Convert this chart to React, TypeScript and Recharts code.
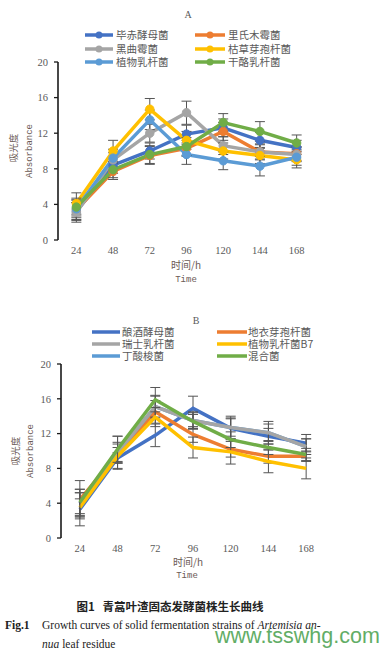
import React from "react";
import { LineChart, Line, XAxis, YAxis, ErrorBar } from "recharts";

// sampling times (h)
const times = [24, 48, 72, 96, 120, 144, 168];
const yTicks = [0, 4, 8, 12, 16, 20];
const labelTicks = [24, 48, 72, 96, 120, 144, 168];
const markTicks = [12, 36, 60, 84, 108, 132, 156, 180];

// chart A
const pichia = [3.2, 8.4, 10.0, 11.9, 12.6, 11.2, 10.4];
const pichiaErr = [1.0, 0.9, 0.9, 1.0, 1.0, 0.9, 0.8];
const trichoderma = [3.4, 7.7, 9.5, 10.3, 12.2, 9.9, 9.7];
const trichodermaErr = [1.1, 0.9, 1.0, 0.9, 1.0, 0.8, 0.8];
const niger = [3.1, 9.0, 12.0, 14.3, 10.6, 9.9, 9.6];
const nigerErr = [1.1, 0.8, 1.0, 1.3, 1.0, 0.9, 0.8];
const subtilis = [4.1, 10.0, 14.7, 11.2, 10.0, 9.5, 9.0];
const subtilisErr = [1.2, 1.2, 1.2, 1.0, 0.9, 0.9, 0.9];
const plantarum = [3.5, 9.2, 13.5, 9.6, 8.9, 8.3, 9.3];
const plantarumErr = [1.0, 1.0, 1.1, 1.1, 1.0, 1.1, 0.9];
const casei = [3.7, 7.9, 9.6, 10.5, 13.2, 12.2, 10.9];
const caseiErr = [1.0, 0.9, 1.0, 1.0, 1.0, 1.1, 0.9];

// chart B
const cerevisiae = [3.3, 9.2, 11.8, 14.9, 12.6, 11.7, 10.9];
const cerevisiaeErr = [1.9, 0.6, 1.3, 1.4, 1.2, 0.9, 1.0];
const licheniformis = [4.4, 9.6, 14.5, 11.9, 10.2, 9.4, 9.4];
const licheniformisErr = [2.2, 0.8, 1.3, 0.9, 0.9, 0.8, 0.6];
const helveticus = [4.0, 9.8, 15.1, 13.5, 12.7, 12.1, 10.5];
const helveticusErr = [1.6, 1.9, 1.3, 0.9, 1.3, 1.3, 0.9];
const plantarumB7 = [3.5, 9.4, 13.9, 10.4, 9.9, 8.8, 8.0];
const plantarumB7Err = [1.0, 1.4, 1.1, 1.2, 1.4, 1.3, 1.2];
const butyricum = [4.0, 9.8, 15.1, 13.5, 12.7, 12.1, 10.5];
const butyricumErr = [1.2, 1.2, 1.2, 1.0, 1.0, 1.0, 0.9];
const mixed = [4.1, 10.2, 15.9, 13.4, 11.3, 10.4, 9.6];
const mixedErr = [1.5, 1.5, 1.4, 0.8, 0.9, 0.8, 0.7];

const seriesA = [
  { key: "a1", name: "毕赤酵母菌", color: "#4472C4", values: pichia, err: pichiaErr },
  { key: "a2", name: "里氏木霉菌", color: "#ED7D31", values: trichoderma, err: trichodermaErr },
  { key: "a3", name: "黑曲霉菌", color: "#A5A5A5", values: niger, err: nigerErr },
  { key: "a4", name: "枯草芽孢杆菌", color: "#FFC000", values: subtilis, err: subtilisErr },
  { key: "a5", name: "植物乳杆菌", color: "#5B9BD5", values: plantarum, err: plantarumErr },
  { key: "a6", name: "干酪乳杆菌", color: "#70AD47", values: casei, err: caseiErr },
];

const seriesB = [
  { key: "b1", name: "酿酒酵母菌", color: "#4472C4", values: cerevisiae, err: cerevisiaeErr },
  { key: "b2", name: "地衣芽孢杆菌", color: "#ED7D31", values: licheniformis, err: licheniformisErr },
  { key: "b3", name: "瑞士乳杆菌", color: "#A5A5A5", values: helveticus, err: helveticusErr },
  { key: "b4", name: "植物乳杆菌B7", color: "#FFC000", values: plantarumB7, err: plantarumB7Err },
  { key: "b5", name: "丁酸梭菌", color: "#5B9BD5", values: butyricum, err: butyricumErr },
  { key: "b6", name: "混合菌", color: "#70AD47", values: mixed, err: mixedErr },
];
// draw order for B (butyricum sits under helveticus)
const drawOrderB = ["b1", "b2", "b5", "b3", "b4", "b6"];

type Series = (typeof seriesA)[number];

function buildRows(series: Series[]) {
  return times.map((t, i) => {
    const row: Record<string, number> = { t };
    series.forEach((s) => {
      row[s.key] = s.values[i];
      row[s.key + "_e"] = s.err[i];
    });
    return row;
  });
}

const dataA = buildRows(seriesA);
const dataB = buildRows(seriesB);

const GREY = "#595959";
const AXIS = "#1a1a1a";
const LABEL = "#6b5a55";
const SERIF = "'Liberation Serif', 'DejaVu Serif', serif";
const CJK = "'Noto Sans CJK SC', sans-serif";
const MONO = "'Liberation Mono', 'DejaVu Sans Mono', monospace";

const TickMark = (props: any) => (
  <line x1={props.x} x2={props.x} y1={props.y} y2={props.y - 4} stroke={AXIS} strokeWidth={1.3} />
);

function Legend({ series, rows, cols, markers }: any) {
  return (
    <>
      {series.map((s: Series, i: number) => {
        const r = Math.floor(i / 2);
        const c = i % 2;
        const top = rows[r];
        const [sx, sw, tx] = cols[c];
        return (
          <div key={s.key}>
            <svg style={{ position: "absolute", left: sx, top: top - 5, overflow: "visible" }} width={sw} height={10}>
              <line x1={0} x2={sw} y1={5} y2={5} stroke={s.color} strokeWidth={3.5} />
              {markers && <circle cx={sw / 2} cy={5} r={3.5} fill={s.color} />}
            </svg>
            <div
              style={{
                position: "absolute",
                left: tx,
                top: top - 6,
                fontFamily: CJK,
                fontSize: 10.5,
                lineHeight: "12px",
                color: GREY,
                whiteSpace: "nowrap",
              }}
            >
              {s.name}
            </div>
          </div>
        );
      })}
    </>
  );
}

function Abs(props: any) {
  const { x, y, children, style, rotate } = props;
  return (
    <div
      style={{
        position: "absolute",
        left: x,
        top: y,
        transform: `translate(-50%, -50%)${rotate ? " rotate(-90deg)" : ""}`,
        whiteSpace: "nowrap",
        lineHeight: 1,
        ...style,
      }}
    >
      {children}
    </div>
  );
}

function Panel({ data, series, order, markers, yAxisWidth, margin }: any) {
  const list = order ? order.map((k: string) => series.find((s: Series) => s.key === k)) : series;
  return (
    <LineChart width={388} height={300} data={data} margin={margin}>
      <XAxis
        xAxisId="marks"
        dataKey="t"
        type="number"
        domain={[12, 180]}
        ticks={markTicks}
        interval={0}
        height={0}
        tickLine={false}
        tickSize={0}
        tickMargin={0}
        axisLine={{ stroke: AXIS, strokeWidth: 1.6 }}
        tick={<TickMark />}
      />
      <XAxis
        dataKey="t"
        type="number"
        domain={[12, 180]}
        ticks={labelTicks}
        interval={0}
        height={30}
        axisLine={false}
        tickLine={false}
        tickSize={0}
        tickMargin={7}
        tick={{ fill: GREY, fontSize: 10.5, fontFamily: SERIF }}
      />
      <YAxis
        domain={[0, 20]}
        ticks={yTicks}
        interval={0}
        width={yAxisWidth}
        axisLine={{ stroke: AXIS, strokeWidth: 1.6 }}
        tickLine={{ stroke: AXIS, strokeWidth: 1.3 }}
        tickSize={4}
        tickMargin={6}
        tick={{ fill: GREY, fontSize: 10.5, fontFamily: SERIF }}
      />
      {list.map((s: Series) => (
        <Line
          key={s.key}
          dataKey={s.key}
          stroke={s.color}
          strokeWidth={3.5}
          isAnimationActive={false}
          dot={markers ? { r: 4.2, fill: s.color, stroke: s.color, strokeWidth: 1 } : false}
          activeDot={false}
        >
          <ErrorBar dataKey={s.key + "_e"} direction="y" width={5} stroke="#555" strokeWidth={1} />
        </Line>
      ))}
    </LineChart>
  );
}

export default function App() {
  return (
    <div style={{ position: "absolute", left: 0, top: 0, width: 388, height: 655, background: "#fff", overflow: "hidden" }}>
      {/* chart A */}
      <div style={{ position: "absolute", left: 0, top: 0 }}>
        <Panel data={dataA} series={seriesA} markers yAxisWidth={58} margin={{ top: 62, right: 73, bottom: 30, left: 0 }} />
      </div>
      <Abs x={188} y={15} style={{ fontFamily: SERIF, fontSize: 10, color: GREY }}>A</Abs>
      <Legend series={seriesA} markers rows={[35, 49, 62]} cols={[[85, 28, 116], [195, 30, 228]]} />
      <Abs x={14} y={148} rotate style={{ fontFamily: CJK, fontSize: 9.5, color: LABEL }}>吸光度</Abs>
      <Abs x={30} y={151} rotate style={{ fontFamily: MONO, fontSize: 9, color: LABEL }}>Absorbance</Abs>
      <Abs x={186} y={265} style={{ fontFamily: CJK, fontSize: 10, color: LABEL }}>时间/h</Abs>
      <Abs x={186} y={280} style={{ fontFamily: MONO, fontSize: 9, color: LABEL }}>Time</Abs>

      {/* chart B */}
      <div style={{ position: "absolute", left: 0, top: 300 }}>
        <Panel data={dataB} series={seriesB} order={drawOrderB} yAxisWidth={61} margin={{ top: 64, right: 63, bottom: 32, left: 0 }} />
      </div>
      <Abs x={196} y={321} style={{ fontFamily: SERIF, fontSize: 10, color: GREY }}>B</Abs>
      <Legend series={seriesB} rows={[332, 344, 356]} cols={[[92, 28, 122], [217, 30, 248]]} />
      <Abs x={16} y={451} rotate style={{ fontFamily: CJK, fontSize: 9.5, color: LABEL }}>吸光度</Abs>
      <Abs x={31} y={451} rotate style={{ fontFamily: MONO, fontSize: 9, color: LABEL }}>Absorbance</Abs>
      <Abs x={188} y={562} style={{ fontFamily: CJK, fontSize: 10, color: LABEL }}>时间/h</Abs>
      <Abs x={187} y={576} style={{ fontFamily: MONO, fontSize: 9, color: LABEL }}>Time</Abs>

      {/* caption */}
      <Abs x={170} y={607} style={{ fontFamily: CJK, fontSize: 11.5, fontWeight: 700, color: "#222" }}>
        图1&nbsp;&nbsp;&nbsp;青蒿叶渣固态发酵菌株生长曲线
      </Abs>
      <div style={{ position: "absolute", left: 5, top: 619, fontFamily: SERIF, fontSize: 11.5, color: "#222", whiteSpace: "nowrap" }}>
        <b>Fig.1</b>
        <span style={{ position: "absolute", left: 37 }}>
          Growth curves of solid fermentation strains of <i>Artemisia an-</i>
        </span>
      </div>
      <div style={{ position: "absolute", left: 42, top: 638, fontFamily: SERIF, fontSize: 11.5, color: "#222", whiteSpace: "nowrap" }}>
        <i>nua</i> leaf residue
      </div>
      <div
        style={{
          position: "absolute",
          left: 215,
          top: 626,
          fontFamily: "'Liberation Sans', Arial, sans-serif",
          fontSize: 21.5,
          color: "#62ad66",
          whiteSpace: "nowrap",
          lineHeight: 1,
        }}
      >
        www.tsswhg.com
      </div>
    </div>
  );
}
